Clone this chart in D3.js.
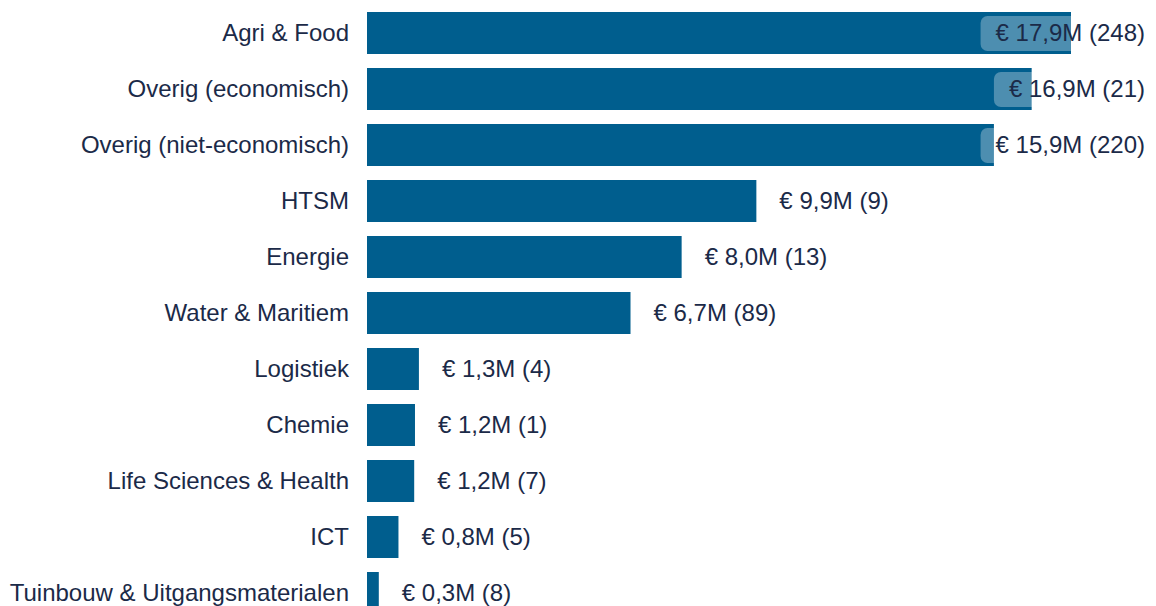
<!DOCTYPE html>
<html><head><meta charset="utf-8">
<script src="https://cdn.jsdelivr.net/npm/d3@7"></script>
<style>body{margin:0;background:#fff;} svg{display:block;}</style>
</head><body>
<svg id="c" width="1156" height="606"></svg>
<script>
const categories = ["Agri & Food","Overig (economisch)","Overig (niet-economisch)","HTSM","Energie","Water & Maritiem","Logistiek","Chemie","Life Sciences & Health","ICT","Tuinbouw & Uitgangsmaterialen"];
const amounts = [17.9, 16.9, 15.94, 9.9, 8.0, 6.7, 1.32, 1.22, 1.2, 0.8, 0.3];
const counts = [248, 21, 220, 9, 13, 89, 4, 1, 7, 5, 8];

const W = 1156, H = 606;
const left = 367, rightEdge = 1145;
const svg = d3.select("#c");
const x = d3.scaleLinear().domain([0, 17.9]).range([left, 1071]);
const y = d3.scaleBand().domain(categories).range([5, 621]).paddingInner(0.25).paddingOuter(0.125);
const font = "Liberation Sans, Arial, sans-serif";
const fs = 24;
const textColor = "#1b2a48";
const fmt = v => "€ " + v.toFixed(1).replace(".", ",") + "M";

const data = categories.map((c, i) => ({c, v: amounts[i], n: counts[i]}));

svg.append("g").selectAll("text").data(data).join("text")
  .attr("x", 349).attr("y", d => y(d.c) + y.bandwidth()/2)
  .attr("dy", "0.35em").attr("text-anchor", "end")
  .attr("font-family", font).attr("font-size", fs).attr("fill", textColor)
  .text(d => d.c);

svg.append("g").selectAll("rect").data(data).join("rect")
  .attr("x", x(0)).attr("y", d => y(d.c))
  .attr("width", d => x(d.v) - x(0)).attr("height", y.bandwidth())
  .attr("fill", "#005e8e");

const lg = svg.append("g");
data.forEach(d => {
  const label = fmt(d.v) + " (" + d.n + ")";
  const cy = y(d.c) + y.bandwidth()/2;
  const t = lg.append("text").attr("font-family", font).attr("font-size", fs).attr("fill", textColor)
    .attr("dy", "0.35em").attr("y", cy).text(label);
  const w = t.node().getComputedTextLength();
  let tx = x(d.v) + 23;
  if (tx + w > rightEdge) {
    tx = rightEdge - w;
    lg.insert("rect", "text").attr("x", tx - 15).attr("y", cy - 17).attr("width", w + 30).attr("height", 35)
      .attr("rx", 7).attr("fill", "#ffffff").attr("fill-opacity", 0.3);
  }
  t.attr("x", tx);
});
</script>
</body></html>
